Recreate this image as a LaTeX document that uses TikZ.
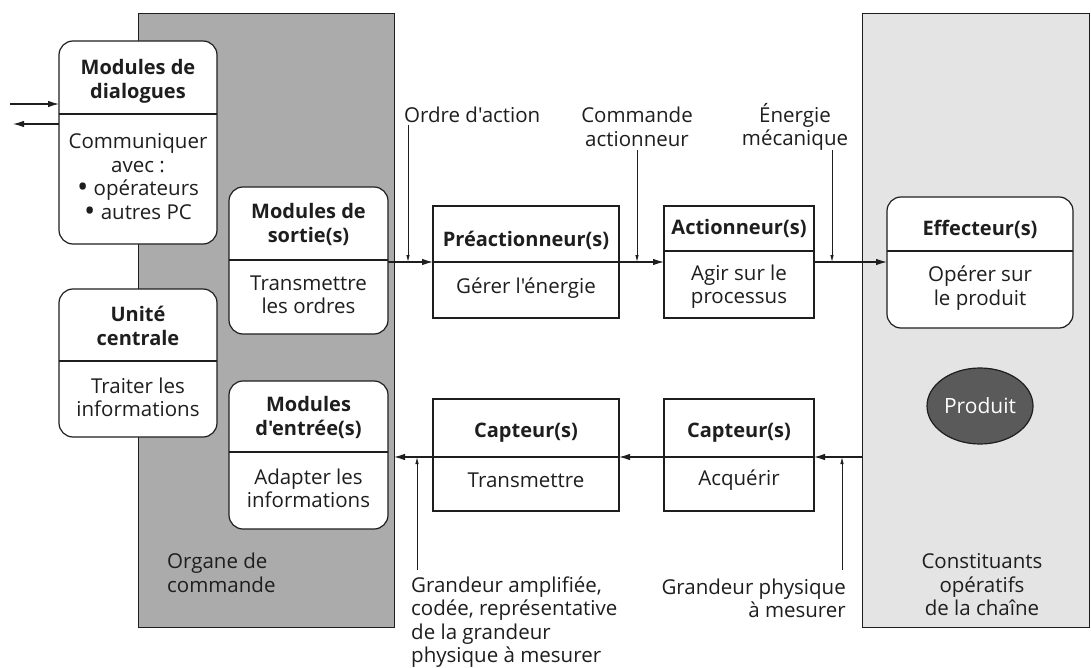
\documentclass[tikz,border=0pt]{standalone}
\usepackage{fontspec}
\setmainfont{Open Sans}[Ligatures=TeXOff]
\usetikzlibrary{arrows.meta,shapes.geometric}
\definecolor{panelA}{HTML}{ABABAB}
\definecolor{panelB}{HTML}{E4E4E4}
\definecolor{ink}{HTML}{1E1E1E}
\definecolor{prod}{HTML}{5A5A5A}
\newcommand{\bigbul}{{\fontsize{30}{23.5}\selectfont\raisebox{-2.2pt}{•}}}
\begin{document}
\begin{tikzpicture}[x=1pt,y=-1pt,
  panel/.style={draw=ink, line width=1pt, outer sep=0pt, inner sep=0pt, anchor=north west},
  rbox/.style={draw=ink, line width=1.2pt, fill=white, rounded corners=14pt, outer sep=0pt, inner sep=0pt, anchor=north west},
  sbox/.style={draw=ink, line width=1.2pt, fill=white, outer sep=0pt, inner sep=0pt, anchor=north west},
  divider/.style={draw=ink, line width=1.2pt},
  ttl/.style={font=\fontsize{20}{24}\selectfont\bfseries, text=ink, align=center, inner sep=0pt},
  bdy/.style={font=\fontsize{20.5}{23.5}\selectfont, text=ink, align=center, inner sep=0pt},
  lbl/.style={font=\fontsize{20.5}{23.5}\selectfont, text=ink, inner sep=0pt},
  arr/.style={draw=ink, line width=1.1pt, -{Latex[length=11pt,width=6.5pt]}},
  sarr/.style={draw=ink, line width=0.8pt, -{Latex[length=7pt,width=3.5pt]}}
]
\useasboundingbox (0,0) rectangle (1091,668);
\fill[white] (0,0) rectangle (1091,668);

% panels
\node[panel, fill=panelA, minimum width=256pt, minimum height=613pt] (lp) at (138,14) {};
\node[panel, fill=panelB, minimum width=227pt, minimum height=613pt] (rp) at (862,14) {};

% boxes
\node[rbox, minimum width=158pt, minimum height=203pt] (dlg) at (59,41) {};
\node[rbox, minimum width=158pt, minimum height=148pt] (uc) at (59,289) {};
\node[rbox, minimum width=159pt, minimum height=147pt] (sor) at (229,187) {};
\node[rbox, minimum width=159pt, minimum height=148pt] (ent) at (229,381) {};
\node[sbox, minimum width=186pt, minimum height=112pt] (pre) at (433,206) {};
\node[sbox, minimum width=150pt, minimum height=112pt] (act) at (664,206) {};
\node[rbox, minimum width=186pt, minimum height=131pt] (eff) at (887,197) {};
\node[sbox, minimum width=186pt, minimum height=112pt] (ca1) at (433,399) {};
\node[sbox, minimum width=150pt, minimum height=112pt] (ca2) at (664,399) {};

% dividers
\draw[divider] (dlg.west |- 0,114) -- (dlg.east |- 0,114);
\draw[divider] (uc.west |- 0,361) -- (uc.east |- 0,361);
\draw[divider] (sor.west |- 0,260) -- (sor.east |- 0,260);
\draw[divider] (ent.west |- 0,452) -- (ent.east |- 0,452);
\draw[divider] (pre.west |- 0,262) -- (pre.east |- 0,262);
\draw[divider] (act.west |- 0,251) -- (act.east |- 0,251);
\draw[divider] (eff.west |- 0,251) -- (eff.east |- 0,251);
\draw[divider] (ca1.west |- 0,457) -- (ca1.east |- 0,457);
\draw[divider] (ca2.west |- 0,457) -- (ca2.east |- 0,457);

% texts in boxes
\node[ttl] (dlgT) at (138,81) {Modules de\\dialogues};
\node[bdy] (dlgB) at (138,177.5) {Communiquer\\avec :\\\bigbul{} opérateurs\\\bigbul{} autres PC};
\node[ttl] (ucT) at (138,326) {Unité\\centrale};
\node[bdy] (ucB) at (138,397.5) {Traiter les\\informations};
\node[ttl] (sorT) at (308.5,224) {Modules de\\sortie(s)};
\node[bdy] (sorB) at (308.5,295) {Transmettre\\les ordres};
\node[ttl] (entT) at (308.5,417.5) {Modules\\d'entrée(s)};
\node[bdy] (entB) at (308.5,488.5) {Adapter les\\informations};
\node[ttl] (preT) at (526,240) {Préactionneur(s)};
\node[bdy] (preB) at (526,288) {Gérer l'énergie};
\node[ttl] (actT) at (739,228) {Actionneur(s)};
\node[bdy] (actB) at (739,286.5) {Agir sur le\\processus};
\node[ttl] (effT) at (980,229) {Effecteur(s)};
\node[bdy] (effB) at (980,288) {Opérer sur\\le produit};
\node[ttl] (ca1T) at (526,433) {Capteur(s)};
\node[bdy] (ca1B) at (526,480) {Transmettre};
\node[ttl] (ca2T) at (739,433) {Capteur(s)};
\node[bdy] (ca2B) at (739,480) {Acquérir};

% product
\node[ellipse, draw=ink, line width=1.2pt, fill=prod, minimum width=106pt, minimum height=76pt, inner sep=0pt,
      font=\fontsize{21}{24}\selectfont, text=white] (prd) at (980,406) {Produit};

% panel captions
\node[lbl, align=left, anchor=west] (org) at (167,573) {Organe de\\commande};
\node[lbl, align=center] (cons) at (982,585) {Constituants\\opératifs\\de la chaîne};

% flow labels
\node[lbl, anchor=west] (ordre) at (404,115) {Ordre d'action};
\node[lbl, align=center] (cmd) at (637,127) {Commande\\actionneur};
\node[lbl, align=center] (ener) at (795,127) {Énergie\\mécanique};
\node[lbl, align=left, anchor=west] (gamp) at (411,622) {Grandeur amplifiée,\\codée, représentative\\de la grandeur\\physique à mesurer};
\node[lbl, align=right, anchor=east] (gphy) at (846,598.5) {Grandeur physique\\à mesurer};

% dialog arrows
\coordinate (inS) at (10,104);
\coordinate (outE) at (13,124);
\draw[arr] (inS) -- (dlg.west |- inS);
\draw[arr] (dlg.west |- outE) -- (outE);

% main flow
\draw[arr] (sor.east |- 0,262) -- (pre.west |- 0,262);
\draw[arr] (pre.east |- 0,262) -- (act.west |- 0,262);
\draw[arr] (act.east |- 0,262) -- (eff.west |- 0,262);

% feedback flow
\draw[arr] (rp.west |- 0,457) -- (ca2.east |- 0,457);
\draw[arr] (ca2.west |- 0,457) -- (ca1.east |- 0,457);
\draw[arr] (ca1.west |- 0,457) -- (lp.east |- 0,457);

% small vertical arrows
\coordinate (v1a) at (408,125); \coordinate (v1b) at (408,262);
\coordinate (v2a) at (637,150); \coordinate (v2b) at (637,262);
\coordinate (v3a) at (832,150); \coordinate (v3b) at (832,262);
\coordinate (v4a) at (417,570); \coordinate (v4b) at (417,457);
\coordinate (v5a) at (842,570); \coordinate (v5b) at (842,457);
\draw[sarr] (v1a) -- (v1b);
\draw[sarr] (v2a) -- (v2b);
\draw[sarr] (v3a) -- (v3b);
\draw[sarr] (v4a) -- (v4b);
\draw[sarr] (v5a) -- (v5b);
\end{tikzpicture}
\end{document}
